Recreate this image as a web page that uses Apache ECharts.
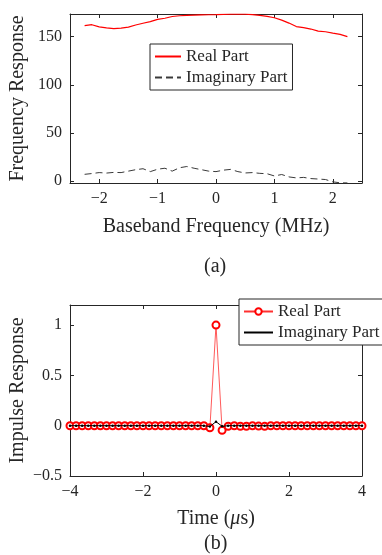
<!DOCTYPE html>
<html>
<head>
<meta charset="utf-8">
<script src="https://cdn.jsdelivr.net/npm/echarts@6/dist/echarts.min.js"></script>
<style>
  html, body { margin: 0; padding: 0; background: #fff; }
  #chart { width: 382px; height: 555px; }
</style>
</head>
<body>
<div id="chart"></div>
<script>
// (a) frequency response, MHz
const freqMHz = [-2.25, -2.125, -2.0, -1.875, -1.75, -1.625, -1.5, -1.375, -1.25, -1.125, -1.0, -0.875, -0.75,
  -0.625, -0.5, -0.375, -0.25, -0.125, 0, 0.125, 0.25, 0.375, 0.5, 0.625, 0.75, 0.875, 1.0, 1.125, 1.25,
  1.375, 1.5, 1.625, 1.75, 1.875, 2.0, 2.125, 2.25];
const realFreq = [161.3, 162.3, 160.0, 159.0, 158.3, 158.8, 159.8, 162.0, 163.8, 165.5, 167.8, 169.0, 170.8,
  171.6, 172.0, 172.3, 172.5, 172.6, 172.7, 173.0, 173.2, 173.3, 173.2, 172.8, 172.0, 171.0, 169.5, 167.0, 164.0,
  160.4, 159.2, 157.8, 155.6, 155.0, 153.6, 152.3, 150.0];
const imagFreq = [7.2, 8.0, 9.0, 8.5, 9.2, 9.0, 10.5, 12.0, 13.0, 10.0, 12.5, 13.5, 10.5,
  14.0, 15.3, 13.5, 12.0, 10.5, 10.0, 11.5, 12.3, 10.0, 8.6, 9.0, 8.2, 7.8, 5.5, 7.0, 4.5,
  3.5, 4.0, 2.8, 2.3, 1.8, -0.6, -1.6, -1.7];
const freqTicks = [-2, -1, 0, 1, 2];
const freqRespTicks = [0, 50, 100, 150];

// (b) impulse response, microseconds
const timeUs = [-4, -3.833, -3.667, -3.5, -3.333, -3.167, -3, -2.833, -2.667, -2.5, -2.333, -2.167, -2,
  -1.833, -1.667, -1.5, -1.333, -1.167, -1, -0.833, -0.667, -0.5, -0.333, -0.167, 0,
  0.167, 0.333, 0.5, 0.667, 0.833, 1, 1.167, 1.333, 1.5, 1.667, 1.833, 2,
  2.167, 2.333, 2.5, 2.667, 2.833, 3, 3.167, 3.333, 3.5, 3.667, 3.833, 4];
const realImp = [0, 0, 0, 0, 0, 0, 0, 0, 0, 0, 0, 0, 0,
  0, 0, 0, 0, 0, 0, 0, 0, 0, 0, -0.02, 1.0,
  -0.045, -0.005, 0, -0.005, -0.005, 0, -0.004, -0.006, 0, 0, 0, 0,
  0, 0, 0, 0, 0, 0, 0, 0, 0, 0, 0, 0];
const imagImp = [0, 0, 0, 0, 0, 0, 0, 0, 0, 0, 0, 0, 0,
  0, 0, 0, 0, 0, 0, 0, 0, 0, 0, -0.008, 0.04,
  -0.006, 0, 0, 0, 0, 0, 0, 0, 0, 0, 0, 0,
  0, 0, 0, 0, 0, 0, 0, 0, 0, 0, 0, 0];
const timeTicks = [-4, -2, 0, 2, 4];
const impTicks = [-0.5, 0, 0.5, 1];

const FONT = 'Liberation Serif';
const INK = '#262626';

const chart = echarts.init(document.getElementById('chart'), null, { renderer: 'canvas' });

function axisBase(min, max, ticks, showLabels, extra) {
  return Object.assign({
    type: 'value',
    min: min,
    max: max,
    nameMoveOverlap: false,
    axisLine: { show: true, onZero: false, lineStyle: { color: INK, width: 1 } },
    axisTick: { show: true, inside: true, length: 4, customValues: ticks, lineStyle: { color: INK, width: 1 } },
    axisLabel: {
      show: showLabels, customValues: ticks, color: INK, fontFamily: FONT, fontSize: 16, margin: 8,
      showMinLabel: true, showMaxLabel: true,
      // MATLAB prints a true minus sign
      formatter: (v) => String(v).replace('-', '\u2212')
    },
    splitLine: { show: false }
  }, extra);
}

const pairs = (xs, ys) => xs.map((x, i) => [x, ys[i]]);

const legendBase = {
  orient: 'vertical',
  itemHeight: 10, itemGap: 0,
  padding: [2, 5, 2, 4],
  backgroundColor: '#fff', borderColor: INK, borderWidth: 1, borderRadius: 0,
  textStyle: { color: INK, fontFamily: FONT, fontSize: 17, lineHeight: 21 },
  selectedMode: false
};

const option = {
  animation: false,
  backgroundColor: '#fff',
  textStyle: { fontFamily: FONT },
  grid: [
    { left: 70, top: 14, width: 292, height: 169, outerBoundsMode: 'none' },
    { left: 70, top: 305, width: 292, height: 171, outerBoundsMode: 'none' }
  ],
  xAxis: [
    axisBase(-2.5, 2.5, freqTicks, true, {
      gridIndex: 0, position: 'bottom', name: 'Baseband Frequency (MHz)', nameLocation: 'middle', nameGap: 34,
      nameTextStyle: { color: INK, fontFamily: FONT, fontSize: 20 }
    }),
    axisBase(-2.5, 2.5, freqTicks, false, { gridIndex: 0, position: 'top' }),
    axisBase(-4, 4, timeTicks, true, {
      gridIndex: 1, position: 'bottom', name: 'Time ({i|μ}s)', nameLocation: 'middle', nameGap: 33,
      nameTextStyle: {
        color: INK, fontFamily: FONT, fontSize: 20,
        rich: { i: { fontFamily: FONT, fontSize: 20, fontStyle: 'italic', color: INK } }
      }
    }),
    axisBase(-4, 4, timeTicks, false, { gridIndex: 1, position: 'top' })
  ],
  yAxis: [
    axisBase(-1.8, 173.4, freqRespTicks, true, {
      gridIndex: 0, position: 'left', name: 'Frequency Response', nameLocation: 'middle', nameGap: 42,
      nameTextStyle: { color: INK, fontFamily: FONT, fontSize: 20 }
    }),
    axisBase(-1.8, 173.4, freqRespTicks, false, { gridIndex: 0, position: 'right' }),
    axisBase(-0.5, 1.2, impTicks, true, {
      gridIndex: 1, position: 'left', name: 'Impulse Response', nameLocation: 'middle', nameGap: 42,
      nameTextStyle: { color: INK, fontFamily: FONT, fontSize: 20 }
    }),
    axisBase(-0.5, 1.2, impTicks, false, { gridIndex: 1, position: 'right' })
  ],
  legend: [
    Object.assign({}, legendBase, {
      left: 150, top: 44, itemWidth: 26,
      data: ['Real Part', 'Imaginary Part'],
      itemStyle: { opacity: 0 }
    }),
    Object.assign({}, legendBase, {
      left: 239, top: 299, itemWidth: 29, itemHeight: 8,
      data: ['Real Part ', { name: 'Imaginary Part ', itemStyle: { opacity: 0 } }],
      formatter: (name) => name.trim()
    })
  ],
  graphic: [
    { type: 'text', left: 204, top: 257, style: { text: '(a)', font: '20px ' + FONT, fill: INK } },
    { type: 'text', left: 204, top: 534, style: { text: '(b)', font: '20px ' + FONT, fill: INK } }
  ],
  series: [
    {
      name: 'Real Part', type: 'line', xAxisIndex: 0, yAxisIndex: 0,
      data: pairs(freqMHz, realFreq), symbol: 'none',
      lineStyle: { color: '#ff0000', width: 1.2 }, itemStyle: { color: '#ff0000' }
    },
    {
      name: 'Imaginary Part', type: 'line', xAxisIndex: 0, yAxisIndex: 0,
      data: pairs(freqMHz, imagFreq), symbol: 'none',
      lineStyle: { color: '#3a3a3a', width: 1, type: [7, 4] }, itemStyle: { color: '#3a3a3a' }
    },
    {
      name: 'Real Part ', type: 'line', xAxisIndex: 2, yAxisIndex: 2,
      data: pairs(timeUs, realImp), symbol: 'emptyCircle', symbolSize: 7, showAllSymbol: true,
      lineStyle: { color: '#ff3030', width: 0.8 },
      itemStyle: { color: '#ff0000', borderColor: '#ff0000', borderWidth: 1 }
    },
    {
      name: 'Imaginary Part ', type: 'line', xAxisIndex: 2, yAxisIndex: 2, z: 4,
      data: pairs(timeUs, imagImp), symbol: 'circle', symbolSize: 2.5, showAllSymbol: true,
      lineStyle: { color: '#000', width: 1 }, itemStyle: { color: '#000' }
    }
  ]
};

chart.setOption(option);
window.addEventListener('resize', () => chart.resize());
</script>
</body>
</html>
